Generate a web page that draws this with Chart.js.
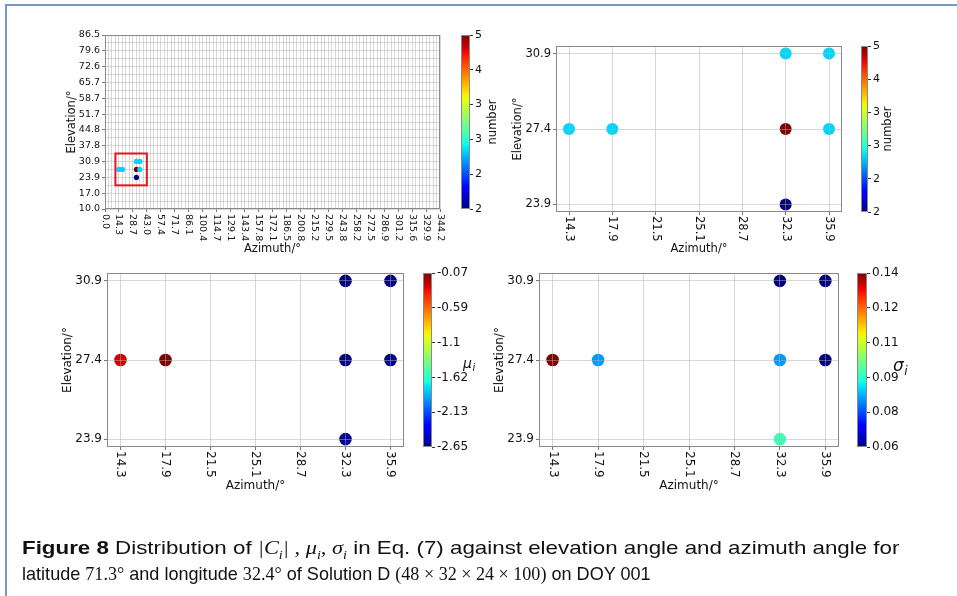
<!DOCTYPE html>
<html>
<head>
<meta charset="utf-8">
<script src="https://cdn.jsdelivr.net/npm/chart.js@4.4.1/dist/chart.umd.min.js"></script>
<style>
  html, body { margin: 0; padding: 0; background: #fff; }
  #page { position: relative; width: 957px; height: 596px; overflow: hidden; background: #fff; }
  #page canvas { position: absolute; left: 0; top: 0; }
  #frame { position: absolute; left: 5px; top: 4px; width: 960px; height: 600px;
           border-left: 2px solid #7b98c0; border-top: 2px solid #7b98c0; }
  .cap { position: absolute; left: 22px; white-space: nowrap; font-family: 'Liberation Sans', sans-serif;
         font-size: 19px; line-height: 22px; color: #111; transform-origin: 0 50%; }
  .m { font-family: 'Liberation Serif', serif; }
  .m i { font-style: italic; }
</style>
</head>
<body>
<div id="page">
  <div id="frame"></div>
  <canvas id="allGrid" width="957" height="596"></canvas>
  <canvas id="allBar" width="957" height="596"></canvas>
  <canvas id="zoomCount" width="957" height="596"></canvas>
  <canvas id="zoomCountBar" width="957" height="596"></canvas>
  <canvas id="zoomMu" width="957" height="596"></canvas>
  <canvas id="zoomMuBar" width="957" height="596"></canvas>
  <canvas id="zoomSigma" width="957" height="596"></canvas>
  <canvas id="zoomSigmaBar" width="957" height="596"></canvas>
  <div class="cap" id="cap1" style="top:537px"><b>Figure 8</b> Distribution of <span class="m"><i>|C<sub style="font-size:12px">i</sub>|</i> , <i>μ<sub style="font-size:12px">i</sub></i>, <i>σ<sub style="font-size:12px">i</sub></i></span> in Eq. (7) against elevation angle and azimuth angle for</div>
  <div class="cap" id="cap2" style="top:563px">latitude <span class="m">71.3°</span> and longitude <span class="m">32.4°</span> of Solution D <span class="m">(48 × 32 × 24 × 100)</span> on DOY 001</div>
</div>

<script>
/* ── data ── */
const azimuthTickLabels = ['0.0','14.3','28.7','43.0','57.4','71.7','86.1','100.4','114.7','129.1','143.4','157.8',
  '172.1','186.5','200.8','215.2','229.5','243.8','258.2','272.5','286.9','301.2','315.6','329.9','344.2'];
const elevationTickLabels = ['10.0','17.0','23.9','30.9','37.8','44.8','51.7','58.7','65.7','72.6','79.6','86.5'];
const zoomAzimuthTicks = [14.3, 17.9, 21.5, 25.1, 28.7, 32.3, 35.9];
const zoomElevationTicks = [23.9, 27.4, 30.9];

const pointAzimuth   = [14.3, 17.9, 32.3, 35.9, 32.3, 35.9, 32.3];
const pointElevation = [27.4, 27.4, 30.9, 30.9, 27.4, 27.4, 23.9];
const countValues    = [3, 3, 3, 3, 5, 3, 2];
const muValues       = [-0.25, -0.07, -2.65, -2.65, -2.63, -2.62, -2.6];
const sigmaValues    = [0.14, 0.082, 0.06, 0.06, 0.082, 0.06, 0.094];

const countRange = [2, 5];
const muRange    = [-2.65, -0.07];
const sigmaRange = [0.06, 0.14];
const countTickLabels = ['2', '2', '3', '3', '4', '5'];
const muTickLabels    = ['-2.65', '-2.13', '-1.62', '-1.1', '-0.59', '-0.07'];
const sigmaTickLabels = ['0.06', '0.08', '0.09', '0.11', '0.12', '0.14'];

/* zoomed box drawn on the full grid */
const zoomBoxAz = [10.7, 43.0];
const zoomBoxEl = [20.4, 34.4];

/* ── style ── */
const FONT = "'DejaVu Sans', sans-serif";
const INK = '#111';
const GRID = 'rgba(176,176,176,0.5)';
const SPINE = '#8a8a8a';
const AXW = 44;   // room kept for the y tick labels (they are clipped to the scale box)
Chart.defaults.font.family = FONT;
Chart.defaults.color = INK;

const JET = {
  r: [[0, 0], [0.35, 0], [0.66, 1], [0.89, 1], [1, 0.5]],
  g: [[0, 0], [0.125, 0], [0.375, 1], [0.64, 1], [0.91, 0], [1, 0]],
  b: [[0, 0.5], [0.11, 1], [0.34, 1], [0.65, 0], [1, 0]],
};
function seg(p, t) {
  for (let i = 1; i < p.length; i++) {
    if (t <= p[i][0]) {
      const [x0, y0] = p[i - 1], [x1, y1] = p[i];
      return y0 + (y1 - y0) * (t - x0) / (x1 - x0);
    }
  }
  return p[p.length - 1][1];
}
function jet(t) {
  t = Math.min(1, Math.max(0, t));
  const c = k => Math.round(255 * seg(JET[k], t));
  return `rgb(${c('r')},${c('g')},${c('b')})`;
}

// grid values: every labelled tick plus `sub` lines in between
function withMinor(labels, sub) {
  const vals = labels.map(Number), out = [];
  vals.forEach((v, i) => {
    out.push({ value: v, lab: labels[i] });
    if (i < vals.length - 1)
      for (let k = 1; k <= sub; k++) out.push({ value: v + (vals[i + 1] - v) * k / (sub + 1), lab: '' });
  });
  return out;
}
const plain = arr => arr.map(v => ({ value: v, lab: v.toFixed(1) }));

/* ── text + frame on each scatter panel ── */
const panelText = {
  id: 'panelText',
  afterDraw(chart, args, o) {
    const { ctx, chartArea: a } = chart;
    ctx.save();
    ctx.strokeStyle = SPINE; ctx.lineWidth = 1;
    ctx.strokeRect(a.left + 0.5, a.top + 0.5, a.right - a.left - 1, a.bottom - a.top - 1);
    if (o.box) {
      const sx = chart.scales.x, sy = chart.scales.y;
      const x0 = sx.getPixelForValue(zoomBoxAz[0]), x1 = sx.getPixelForValue(zoomBoxAz[1]);
      const y0 = sy.getPixelForValue(zoomBoxEl[1]), y1 = sy.getPixelForValue(zoomBoxEl[0]);
      ctx.strokeStyle = '#e8141c'; ctx.lineWidth = 2;
      ctx.strokeRect(x0, y0, x1 - x0, y1 - y0);
    }
    ctx.fillStyle = INK;
    ctx.font = `${o.tickSize}px ${FONT}`;
    ctx.textAlign = 'left'; ctx.textBaseline = 'middle';
    chart.scales.x.ticks.forEach(t => {
      if (!t.lab) return;
      const x = chart.scales.x.getPixelForValue(t.value);
      ctx.save();
      ctx.translate(x, a.bottom + o.xPad);
      ctx.rotate(Math.PI / 2);
      ctx.fillText(t.lab, 0, 0);
      ctx.restore();
    });
    ctx.font = `${o.titleSize}px ${FONT}`;
    ctx.textAlign = 'center';
    ctx.fillText('Azimuth/\u00b0', (a.left + a.right) / 2, a.bottom + o.xTitle);
    ctx.translate(a.left - o.yTitle, (a.top + a.bottom) / 2);
    ctx.rotate(-Math.PI / 2);
    ctx.fillText('Elevation/\u00b0', 0, 0);
    ctx.restore();
  }
};

function makeScatter(id, o) {
  const [L, T, R, B] = o.area;
  const [lo, hi] = o.range;
  const markTick = c => (c.tick && c.tick.lab) ? '#777' : 'rgba(0,0,0,0)';
  return new Chart(document.getElementById(id), {
    type: 'scatter',
    data: {
      datasets: [{
        data: pointAzimuth.map((x, i) => ({ x, y: pointElevation[i] })),
        backgroundColor: o.values.map(v => jet((v - lo) / (hi - lo))),
        borderWidth: 0,
        pointRadius: o.radius,
        pointHoverRadius: o.radius,
      }]
    },
    options: {
      responsive: false, animation: false, events: [],
      layout: { padding: { left: L - AXW, top: T, right: 957 - R, bottom: 596 - B } },
      plugins: {
        legend: { display: false }, tooltip: { enabled: false },
        panelText: { box: o.box, tickSize: o.tickSize, titleSize: o.titleSize,
                     xPad: o.xPad, xTitle: o.xTitle, yTitle: o.yTitle }
      },
      scales: {
        x: {
          type: 'linear', min: o.x[0], max: o.x[1],
          afterFit: s => { s.height = 0; },
          afterBuildTicks: s => { s.ticks = o.xTicks.map(t => ({ ...t })); },
          ticks: { display: false },
          grid: { color: GRID, z: o.gridZ, tickLength: 3, tickColor: markTick },
          border: { display: false },
        },
        y: {
          type: 'linear', min: o.y[0], max: o.y[1],
          afterFit: s => { s.width = AXW; },
          afterBuildTicks: s => { s.ticks = o.yTicks.map(t => ({ ...t })); },
          ticks: { autoSkip: false, padding: 2, font: { size: o.tickSize }, color: INK,
                   callback: (v, i, ticks) => ticks[i].lab },
          grid: { color: GRID, z: o.gridZ, tickLength: 3, tickColor: markTick },
          border: { display: false },
        }
      }
    },
    plugins: [panelText]
  });
}

/* ── colourbars ── */
const barText = {
  id: 'barText',
  afterDraw(chart, args, o) {
    const { ctx, chartArea: a } = chart;
    ctx.save();
    ctx.strokeStyle = SPINE; ctx.lineWidth = 1;
    ctx.strokeRect(a.left + 0.5, a.top + 0.5, a.right - a.left - 1, a.bottom - a.top - 1);
    ctx.fillStyle = INK;
    ctx.textBaseline = 'middle';
    if (o.rotated) {
      ctx.font = `${o.size}px ${FONT}`;
      ctx.textAlign = 'center';
      ctx.translate(o.at[0], o.at[1]);
      ctx.rotate(-Math.PI / 2);
      ctx.fillText(o.label, 0, 0);
    } else {
      ctx.font = `italic ${o.size}px ${FONT}`;
      ctx.textAlign = 'left';
      ctx.fillText(o.label, o.at[0], o.at[1]);
      const w = ctx.measureText(o.label).width;
      ctx.font = `italic ${Math.round(o.size * 0.7)}px ${FONT}`;
      ctx.fillText('i', o.at[0] + w + 0.5, o.at[1] + o.size * 0.3);
    }
    ctx.restore();
  }
};

function makeColorbar(id, o) {
  const [L, T, R, B] = o.area;
  const [lo, hi] = o.range;
  const fill = c => {
    const { ctx, chartArea: a } = c.chart;
    if (!a) return jet(0.5);
    const g = ctx.createLinearGradient(0, a.bottom, 0, a.top);
    for (let k = 0; k <= 40; k++) g.addColorStop(k / 40, jet(k / 40));
    return g;
  };
  return new Chart(document.getElementById(id), {
    type: 'bar',
    data: { labels: [''], datasets: [{ data: [[lo, hi]], backgroundColor: fill, borderWidth: 0,
                                       barPercentage: 1, categoryPercentage: 1 }] },
    options: {
      responsive: false, animation: false, events: [],
      layout: { padding: { left: L, top: T, right: 957 - R - AXW, bottom: 596 - B } },
      plugins: { legend: { display: false }, tooltip: { enabled: false },
                 barText: { label: o.label, rotated: o.rotated, size: o.labelSize, at: o.labelAt } },
      scales: {
        x: { display: false },
        y: {
          position: 'right', min: lo, max: hi,
          afterFit: s => { s.width = AXW; },
          afterBuildTicks: s => {
            s.ticks = o.ticks.map((t, i) => ({ value: lo + (hi - lo) * i / (o.ticks.length - 1) }));
          },
          ticks: { autoSkip: false, padding: 2, font: { size: o.tickSize }, color: INK,
                   callback: (v, i) => o.ticks[i] },
          grid: { drawOnChartArea: false, tickLength: 3, tickColor: '#333' },
          border: { display: false },
        }
      }
    },
    plugins: [barText]
  });
}

/* ── panels ── */
makeScatter('allGrid', {
  area: [105, 35, 440, 209], x: [0, 344.2], y: [10, 86.5],
  xTicks: withMinor(azimuthTickLabels, 3), yTicks: withMinor(elevationTickLabels, 1),
  values: countValues, range: countRange, radius: 2.6, gridZ: -1, box: true,
  tickSize: 9.5, titleSize: 11.5, xPad: 5, xTitle: 40, yTitle: 33,
});
makeColorbar('allBar', {
  area: [461, 35, 470, 209], range: countRange, ticks: countTickLabels, tickSize: 11,
  label: 'number', rotated: true, labelSize: 11.5, labelAt: [493, 122],
});

makeScatter('zoomCount', {
  area: [556, 46, 842, 212], x: [13.22, 36.98], y: [23.55, 31.25],
  xTicks: plain(zoomAzimuthTicks), yTicks: plain(zoomElevationTicks),
  values: countValues, range: countRange, radius: 6, gridZ: 1, box: false,
  tickSize: 11.5, titleSize: 11.5, xPad: 4, xTitle: 37, yTitle: 38,
});
makeColorbar('zoomCountBar', {
  area: [861, 46, 868, 212], range: countRange, ticks: countTickLabels, tickSize: 11,
  label: 'number', rotated: true, labelSize: 11.5, labelAt: [888, 129],
});

makeScatter('zoomMu', {
  area: [107, 273, 404, 447], x: [13.22, 36.98], y: [23.55, 31.25],
  xTicks: plain(zoomAzimuthTicks), yTicks: plain(zoomElevationTicks),
  values: muValues, range: muRange, radius: 6.3, gridZ: 1, box: false,
  tickSize: 12, titleSize: 12, xPad: 4, xTitle: 39, yTitle: 39,
});
makeColorbar('zoomMuBar', {
  area: [423, 273, 432, 447], range: muRange, ticks: muTickLabels, tickSize: 12,
  label: 'μ', rotated: false, labelSize: 14, labelAt: [463, 364],
});

makeScatter('zoomSigma', {
  area: [539, 273, 839, 447], x: [13.22, 36.98], y: [23.55, 31.25],
  xTicks: plain(zoomAzimuthTicks), yTicks: plain(zoomElevationTicks),
  values: sigmaValues, range: sigmaRange, radius: 6.3, gridZ: 1, box: false,
  tickSize: 12, titleSize: 12, xPad: 4, xTitle: 39, yTitle: 39,
});
makeColorbar('zoomSigmaBar', {
  area: [857, 273, 867, 447], range: sigmaRange, ticks: sigmaTickLabels, tickSize: 12,
  label: 'σ', rotated: false, labelSize: 17, labelAt: [893, 367],
});

/* caption lines squeezed to the reference widths */
[['cap1', 878], ['cap2', 629]].forEach(([id, w]) => {
  const el = document.getElementById(id);
  el.style.transform = `scaleX(${w / el.scrollWidth})`;
});
</script>
</body>
</html>
